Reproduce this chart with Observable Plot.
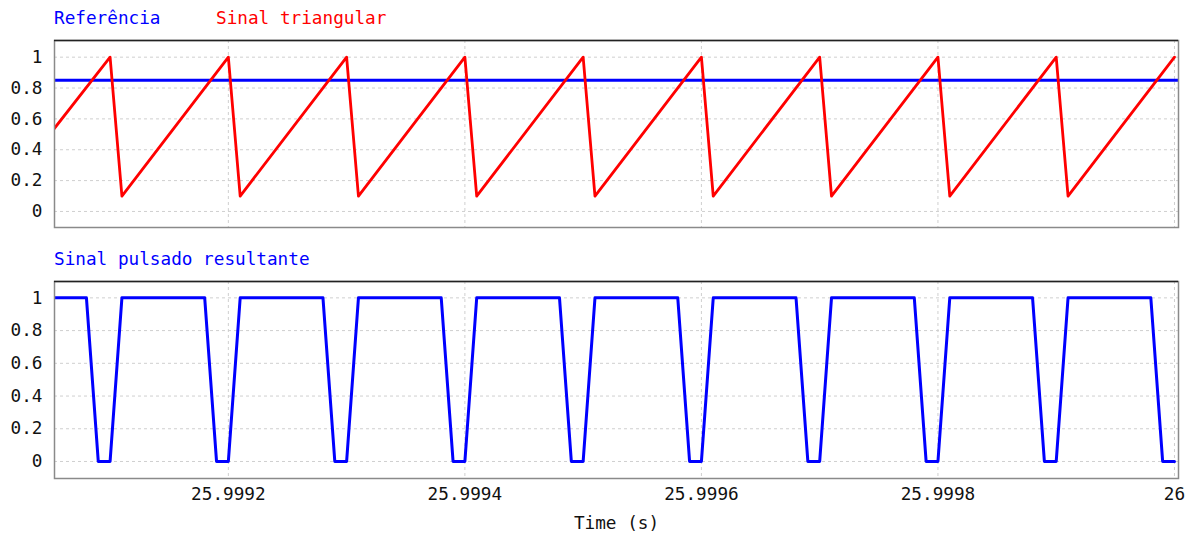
<!DOCTYPE html>
<html><head><meta charset="utf-8">
<script src="https://cdn.jsdelivr.net/npm/d3@7"></script>
<script src="https://cdn.jsdelivr.net/npm/@observablehq/plot@0.6"></script>
<style>
body{margin:0;background:#fff;}
#root{position:relative;width:1191px;height:535px;overflow:hidden;font-family:"DejaVu Sans Mono",monospace;}
.leg{position:absolute;font-size:17.7px;line-height:17.7px;white-space:pre;}
.panel{position:absolute;left:0;}
</style></head><body><div id="root"></div>
<script>
// ---- data ----
const xDomain = [25.999053, 26.0000034];
const xTicks = [25.9992, 25.9994, 25.9996, 25.9998, 26];
const xTickLabels = ["25.9992", "25.9994", "25.9996", "25.9998", "26"];
const yTicks = [0, 0.2, 0.4, 0.6, 0.8, 1];
const yTickLabels = ["0", "0.2", "0.4", "0.6", "0.8", "1"];

const refLevel = 0.85; // Referência

// Sinal triangular (vertices)
const triT = [25.99905, 25.9991, 25.99911, 25.9992, 25.99921, 25.9993, 25.99931, 25.9994, 25.99941,
  25.9995, 25.99951, 25.9996, 25.99961, 25.9997, 25.99971, 25.9998, 25.99981, 25.9999, 25.99991, 26];
const triV = [0.51, 1, 0.1, 1, 0.1, 1, 0.1, 1, 0.1, 1, 0.1, 1, 0.1, 1, 0.1, 1, 0.1, 1, 0.1, 1];

// Sinal pulsado resultante (vertices)
const pulseT = [25.99905,
  25.99908, 25.99909, 25.9991, 25.99911,
  25.99918, 25.99919, 25.9992, 25.99921,
  25.99928, 25.99929, 25.9993, 25.99931,
  25.99938, 25.99939, 25.9994, 25.99941,
  25.99948, 25.99949, 25.9995, 25.99951,
  25.99958, 25.99959, 25.9996, 25.99961,
  25.99968, 25.99969, 25.9997, 25.99971,
  25.99978, 25.99979, 25.9998, 25.99981,
  25.99988, 25.99989, 25.9999, 25.99991,
  25.99998, 25.99999, 26];
const pulseV = [1,
  1, 0, 0, 1,
  1, 0, 0, 1,
  1, 0, 0, 1,
  1, 0, 0, 1,
  1, 0, 0, 1,
  1, 0, 0, 1,
  1, 0, 0, 1,
  1, 0, 0, 1,
  1, 0, 0, 1,
  1, 0, 0];

const topYDomain = [-0.104, 1.108];
const botYDomain = [-0.104, 1.1];

const triData = triT.map((t, i) => ({t, v: triV[i]}));
const pulseData = pulseT.map((t, i) => ({t, v: pulseV[i]}));

const root = document.getElementById("root");
function leg(text, color, left, top) {
  const d = document.createElement("div");
  d.className = "leg";
  d.textContent = text;
  d.style.color = color;
  d.style.left = left + "px";
  d.style.top = top + "px";
  root.appendChild(d);
}
leg("Referência", "#0000ff", 54, 9.5);
leg("Sinal triangular", "#ff0000", 216, 9.5);
leg("Sinal pulsado resultante", "#0000ff", 54, 250.5);

const FS = 17.7;
const common = {
  width: 1191, marginLeft: 54, marginRight: 13,
  style: {fontFamily: "DejaVu Sans Mono, monospace", fontSize: FS + "px", color: "#111", background: "transparent", overflow: "visible"},
};
const grid = (yd) => [
  Plot.gridX(xTicks, {stroke: "#cfcfcf", strokeOpacity: 1, strokeDasharray: "3,3"}),
  Plot.gridY(yTicks, {stroke: "#cfcfcf", strokeOpacity: 1, strokeDasharray: "3,3"}),
  Plot.axisY(yTicks, {tickSize: 0, tickPadding: 12, fontSize: FS, tickFormat: d => yTickLabels[yTicks.indexOf(d)], label: null}),
];
const frame = (yd) => [
  Plot.frame({stroke: "#8a8a8a", strokeWidth: 1.5}),
  Plot.ruleY([yd[1]], {stroke: "#222", strokeWidth: 1.5})
];

const top1 = Plot.plot({
  ...common, height: 205, marginTop: 10, marginBottom: 8,
  x: {domain: xDomain, axis: null},
  y: {domain: topYDomain, axis: null},
  marks: [
    ...grid(topYDomain),
    Plot.ruleY([refLevel], {stroke: "#0000ff", strokeWidth: 3}),
    Plot.line(triData, {x: "t", y: "v", stroke: "#ff0000", strokeWidth: 2.8, clip: true}),
    ...frame(topYDomain)
  ]
});
top1.classList.add("panel");
top1.style.top = "30px";
root.appendChild(top1);

const bot = Plot.plot({
  ...common, height: 264, marginTop: 10, marginBottom: 57,
  x: {domain: xDomain, axis: null},
  y: {domain: botYDomain, axis: null},
  marks: [
    ...grid(botYDomain),
    Plot.axisX(xTicks, {tickSize: 0, tickPadding: 9, fontSize: FS, tickFormat: d => xTickLabels[xTicks.indexOf(d)], label: null}),
    Plot.line(pulseData, {x: "t", y: "v", stroke: "#0000ff", strokeWidth: 3, clip: true}),
    ...frame(botYDomain),
    Plot.text(["Time (s)"], {frameAnchor: "bottom", dy: 50, fontSize: FS, fill: "#111"})
  ]
});
bot.classList.add("panel");
bot.style.top = "271px";
root.appendChild(bot);
</script>
</body></html>
